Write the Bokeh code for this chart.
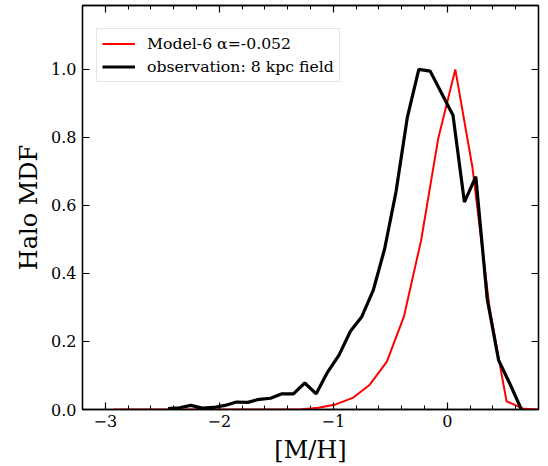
from bokeh.plotting import figure
from bokeh.models import (LinearAxis, SingleIntervalTicker, Range1d, Legend, LegendItem,
                          PrintfTickFormatter)
from bokeh.embed import file_html
from bokeh.resources import INLINE

# Model-6 curve
model_x = [-2.93, -2.78, -2.63, -2.48, -2.33, -2.18, -2.03, -1.88, -1.73, -1.58, -1.43,
           -1.28, -1.13, -0.98, -0.83, -0.68, -0.53, -0.38, -0.23, -0.08, 0.07, 0.22,
           0.37, 0.52, 0.67, 0.82]
model_y = [0, 0, 0, 0, 0, 0, 0, 0, 0, 0, 0,
           0.001, 0.005, 0.015, 0.034, 0.073, 0.141, 0.274, 0.497, 0.796, 1.0, 0.713,
           0.30, 0.024, 0.002, 0.0]

# observation: 8 kpc field
obs_x = [-2.45, -2.35, -2.25, -2.15, -2.05, -1.95, -1.85, -1.75, -1.65, -1.55, -1.45,
         -1.35, -1.25, -1.15, -1.05, -0.95, -0.85, -0.75, -0.65, -0.55, -0.45, -0.35,
         -0.25, -0.15, -0.05, 0.05, 0.15, 0.25, 0.35, 0.45, 0.55, 0.65]
obs_y = [0.003, 0.005, 0.012, 0.004, 0.006, 0.012, 0.022, 0.021, 0.030, 0.033, 0.046,
         0.046, 0.078, 0.046, 0.110, 0.160, 0.230, 0.273, 0.350, 0.472, 0.640, 0.860,
         1.000, 0.995, 0.930, 0.865, 0.610, 0.685, 0.325, 0.145, 0.075, 0.0]

model_label = "Model-6 \u03b1=-0.052"
obs_label = "observation: 8 kpc field"
x_label = "[M/H]"
y_label = "Halo MDF"
x_tick_labels = {-3: "\u22123", -2: "\u22122", -1: "\u22121", 0: "0"}

FONT = "DejaVu Serif"

p = figure(width=548, height=466, output_backend="svg", toolbar_location=None,
           x_range=Range1d(-3.2, 0.8), y_range=Range1d(0, 1.188),
           min_border_left=82, min_border_right=10, min_border_top=5, min_border_bottom=57,
           x_axis_label=x_label, y_axis_label=y_label)
p.background_fill_color = "white"
p.border_fill_color = "white"
p.outline_line_color = "black"
p.outline_line_width = 1.3
p.xgrid.visible = False
p.ygrid.visible = False

r_model = p.line(model_x, model_y, line_color="red", line_width=2)
r_obs = p.line(obs_x, obs_y, line_color="black", line_width=3.2)


def style(ax, show_labels=True):
    ax.axis_line_color = "black"
    ax.axis_line_width = 1.3
    ax.major_tick_in = 7
    ax.major_tick_out = 0
    ax.minor_tick_in = 4
    ax.minor_tick_out = 0
    ax.major_tick_line_width = 1.2
    ax.minor_tick_line_width = 1.0
    ax.major_label_text_font = FONT
    ax.axis_label_text_font = FONT
    ax.axis_label_text_font_style = "normal"
    ax.axis_label_text_color = "black"
    ax.axis_label_text_font_size = "24px"
    if show_labels:
        ax.major_label_text_color = "black"
        ax.major_label_text_font_size = "16px"
    else:
        ax.major_label_text_color = None
        ax.major_label_text_font_size = "1px"
        ax.major_label_standoff = 0


xa = p.xaxis[0]
xa.ticker = SingleIntervalTicker(interval=1, num_minor_ticks=5)
xa.major_label_overrides = x_tick_labels
style(xa)
xa.major_label_standoff = 5
xa.axis_label_standoff = 6

ya = p.yaxis[0]
ya.ticker = SingleIntervalTicker(interval=0.2, num_minor_ticks=0)
ya.formatter = PrintfTickFormatter(format="%.1f")
style(ya)
ya.major_label_standoff = 6
ya.axis_label_standoff = 5

top = LinearAxis(ticker=SingleIntervalTicker(interval=1, num_minor_ticks=5))
style(top, False)
p.add_layout(top, "above")
right = LinearAxis(ticker=SingleIntervalTicker(interval=0.2, num_minor_ticks=0))
style(right, False)
p.add_layout(right, "right")

legend = Legend(items=[LegendItem(label=model_label, renderers=[r_model]),
                       LegendItem(label=obs_label, renderers=[r_obs])],
                location=(14, 327))
legend.label_text_font = FONT
legend.label_text_font_size = "15.7px"
legend.label_text_color = "black"
legend.border_line_color = "#cccccc"
legend.border_line_width = 1
legend.background_fill_alpha = 0.8
legend.glyph_width = 33
legend.glyph_height = 19
legend.label_height = 19
legend.spacing = 4
legend.padding = 5
legend.label_standoff = 12
legend.margin = 0
p.add_layout(legend, "center")

open("out.html", "w").write(file_html(p, INLINE))
